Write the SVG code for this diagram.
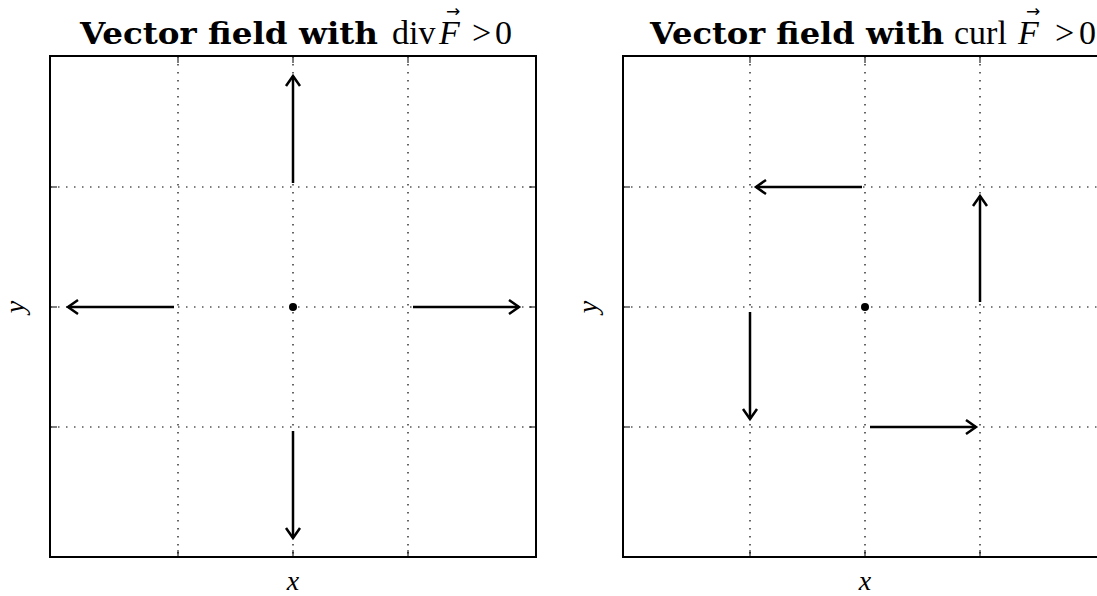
<svg xmlns="http://www.w3.org/2000/svg" width="1097" height="596" viewBox="0 0 1097 596">
<style>
.frame{fill:none;stroke:#000;stroke-width:2}
.grid{stroke:#000;stroke-width:1.2;stroke-dasharray:1.5,6.5}
.tick{stroke:#000;stroke-width:1}
.vec{stroke:#000;stroke-width:2.5;fill:none;marker-end:url(#head)}
.title{font-family:"Liberation Serif",serif;font-size:34px;fill:#000}
.bold{font-family:"DejaVu Serif",serif;font-weight:bold;font-size:29px}
.it{font-style:italic}
.acc{font-family:"DejaVu Sans",sans-serif;font-size:17px;font-style:normal}
.lab{font-family:"Liberation Serif",serif;font-style:italic;font-size:28px;fill:#000}
</style>
<defs>
<marker id="head" markerUnits="userSpaceOnUse" viewBox="-14 -10 18 20" markerWidth="18" markerHeight="20" refX="0" refY="0" orient="auto">
<path d="M-10,-7 L0,0 L-10,7" fill="none" stroke="#000" stroke-width="2.5"/>
</marker>
</defs>
<rect width="1097" height="596" fill="#fff"/>

<g id="panel-div">
<g id="div-grid">
<line class="grid" x1="178" y1="56" x2="178" y2="557"/>
<line class="grid" x1="293" y1="56" x2="293" y2="557"/>
<line class="grid" x1="408" y1="56" x2="408" y2="557"/>
<line class="grid" x1="50" y1="187" x2="536" y2="187"/>
<line class="grid" x1="50" y1="307" x2="536" y2="307"/>
<line class="grid" x1="50" y1="427" x2="536" y2="427"/>
</g>
<g id="div-ticks">
<path class="tick" d="M178,56v7M293,56v7M408,56v7M178,557v-7M293,557v-7M408,557v-7M50,187h7M50,307h7M50,427h7M536,187h-7M536,307h-7M536,427h-7"/>
</g>
<rect class="frame" x="50" y="56" width="486" height="501"/>
<g id="div-title">
<text class="title bold" x="80" y="44" textLength="298" lengthAdjust="spacingAndGlyphs">Vector field with</text>
<text class="title" x="392" y="44">div</text>
<text class="title" x="439" y="44"><tspan class="it">F</tspan><tspan class="acc" x="446" y="17">→</tspan></text>
<text class="title" x="472" y="44">&gt;</text>
<text class="title" x="495" y="44">0</text>
</g>
<text class="lab" x="293" y="590" text-anchor="middle">x</text>
<text class="lab" x="0" y="0" text-anchor="middle" transform="translate(24,307) rotate(-90)">y</text>
<circle id="div-source" cx="293" cy="307" r="4" fill="#000"/>
</g>

<g id="panel-curl">
<g id="curl-grid">
<line class="grid" x1="750" y1="56" x2="750" y2="557"/>
<line class="grid" x1="865" y1="56" x2="865" y2="557"/>
<line class="grid" x1="980" y1="56" x2="980" y2="557"/>
<line class="grid" x1="623" y1="187" x2="1097" y2="187"/>
<line class="grid" x1="623" y1="307" x2="1097" y2="307"/>
<line class="grid" x1="623" y1="427" x2="1097" y2="427"/>
</g>
<g id="curl-ticks">
<path class="tick" d="M750,56v7M865,56v7M980,56v7M750,557v-7M865,557v-7M980,557v-7M623,187h7M623,307h7M623,427h7"/>
</g>
<path class="frame" d="M1100,56H623V557H1100"/>
<g id="curl-title">
<text class="title bold" x="650" y="44" textLength="294" lengthAdjust="spacingAndGlyphs">Vector field with</text>
<text class="title" x="954" y="44">curl</text>
<text class="title" x="1018" y="44"><tspan class="it">F</tspan><tspan class="acc" x="1026" y="17">→</tspan></text>
<text class="title" x="1055" y="44">&gt;</text>
<text class="title" x="1079" y="44">0</text>
</g>
<text class="lab" x="865" y="590" text-anchor="middle">x</text>
<text class="lab" x="0" y="0" text-anchor="middle" transform="translate(597,307) rotate(-90)">y</text>
<circle id="curl-center" cx="865" cy="307" r="4" fill="#000"/>
</g>

<g id="connectors">
<line class="vec" x1="293" y1="183" x2="293" y2="76"/>
<line class="vec" x1="174" y1="307" x2="68" y2="307"/>
<line class="vec" x1="413" y1="307" x2="519" y2="307"/>
<line class="vec" x1="293" y1="431" x2="293" y2="538"/>
<line class="vec" x1="862" y1="187" x2="756" y2="187"/>
<line class="vec" x1="980" y1="302" x2="980" y2="196"/>
<line class="vec" x1="750" y1="312" x2="750" y2="419"/>
<line class="vec" x1="870" y1="427" x2="976" y2="427"/>
</g>
</svg>
